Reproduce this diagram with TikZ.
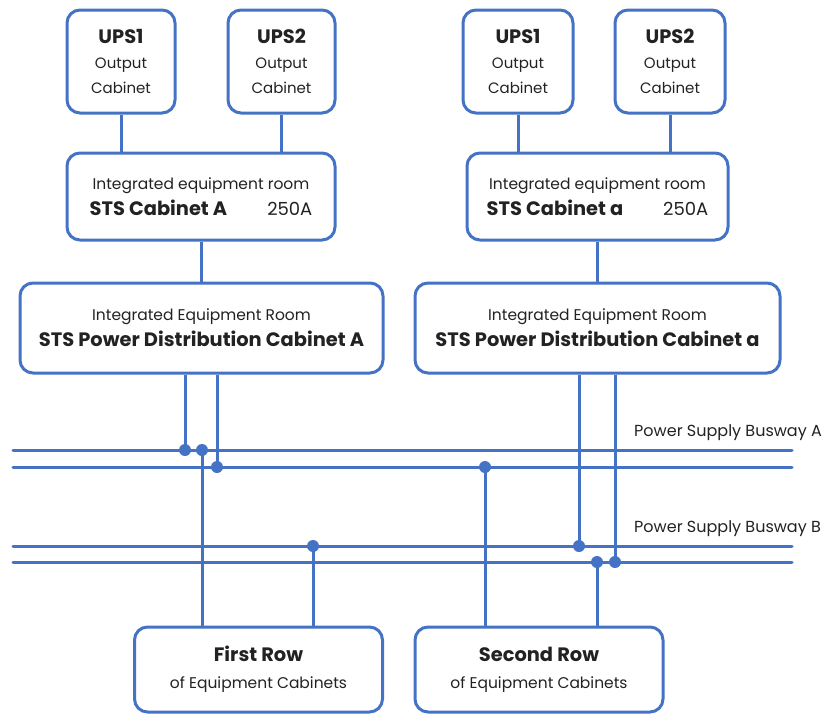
\documentclass[tikz,border=0pt]{standalone}
\usepackage{fontspec}
\setmainfont{Poppins}
\definecolor{lineblue}{HTML}{4472C4}
\definecolor{txt}{HTML}{222222}
\newcommand{\bigb}[1]{{\fontsize{19.4}{25}\selectfont\bfseries #1}}
\begin{document}
\begin{tikzpicture}[x=1pt,y=-1pt,
  box/.style={draw=lineblue,line width=3pt,rounded corners=13pt,fill=white,
    text=txt,align=center,inner sep=0pt},
  ups/.style={box,minimum height=103pt,font=\fontsize{15}{25}\selectfont},
  sts/.style={box,minimum height=87pt,font=\fontsize{15.5}{26}\selectfont},
  pd/.style={box,minimum height=90pt,font=\fontsize{15.5}{26}\selectfont},
  rowbox/.style={box,minimum width=248pt,minimum height=85pt,font=\fontsize{15.5}{27}\selectfont},
  wire/.style={draw=lineblue,line width=3pt},
  bus/.style={draw=lineblue,line width=3pt,line cap=round},
  dot/.style={circle,fill=lineblue,inner sep=0pt,minimum size=12pt},
  lbl/.style={text=txt,font=\fontsize{16}{18}\selectfont,anchor=west,inner sep=0pt}]
\useasboundingbox (0,0) rectangle (825,715);
% top boxes
\node[ups,minimum width=108pt] (u1L) at (121,61.5) {\bigb{UPS1}\\Output\\Cabinet};
\node[ups,minimum width=107pt] (u2L) at (281.5,61.5) {\bigb{UPS2}\\Output\\Cabinet};
\node[ups,minimum width=110pt] (u1R) at (518,61.5) {\bigb{UPS1}\\Output\\Cabinet};
\node[ups,minimum width=110pt] (u2R) at (670,61.5) {\bigb{UPS2}\\Output\\Cabinet};
% STS cabinets
\node[sts,minimum width=268pt] (stsA) at (201,196.5)
  {Integrated equipment room\\\bigb{STS Cabinet A}\hspace{40pt}{\fontsize{18}{26}\selectfont 250A}};
\node[sts,minimum width=261pt] (stsa) at (597.5,196.5)
  {Integrated equipment room\\\bigb{STS Cabinet a}\hspace{40pt}{\fontsize{18}{26}\selectfont 250A}};
% power distribution cabinets
\node[pd,minimum width=363pt] (pdA) at (201.5,328)
  {Integrated Equipment Room\\\bigb{STS Power Distribution Cabinet A}};
\node[pd,minimum width=365pt] (pda) at (597.5,328)
  {Integrated Equipment Room\\\bigb{STS Power Distribution Cabinet a}};
% rows
\node[rowbox] (row1) at (258.5,669.5) {\bigb{First Row}\\of Equipment Cabinets};
\node[rowbox] (row2) at (539,669.5) {\bigb{Second Row}\\of Equipment Cabinets};
% top connectors
\draw[wire] (u1L.south) -- (u1L.south |- stsA.north);
\draw[wire] (u2L.south) -- (u2L.south |- stsA.north);
\draw[wire] (u1R.south) -- (u1R.south |- stsa.north);
\draw[wire] (u2R.south) -- (u2R.south |- stsa.north);
\draw[wire] (stsA.south) -- (stsA.south |- pdA.north);
\draw[wire] (stsa.south) -- (stsa.south |- pda.north);
% busways
\coordinate (a1w) at (13,450); \coordinate (a1e) at (792,450);
\coordinate (a2w) at (13,467); \coordinate (a2e) at (792,467);
\coordinate (b1w) at (13,546); \coordinate (b1e) at (792,546);
\coordinate (b2w) at (13,562); \coordinate (b2e) at (792,562);
\draw[bus] (a1w) -- (a1e);
\draw[bus] (a2w) -- (a2e);
\draw[bus] (b1w) -- (b1e);
\draw[bus] (b2w) -- (b2e);
\node[lbl] (labA) at (634,433) {Power Supply Busway A};
\node[lbl] (labB) at (634,529) {Power Supply Busway B};
% junctions
\node[dot] (j1) at (185,450) {};
\node[dot] (j2) at (217,467) {};
\node[dot] (j3) at (202,450) {};
\node[dot] (j4) at (313,546) {};
\node[dot] (j5) at (579,546) {};
\node[dot] (j6) at (615,562) {};
\node[dot] (j7) at (597,562) {};
\node[dot] (j8) at (485,467) {};
\draw[wire] (j1 |- pdA.south) -- (j1.center);
\draw[wire] (j2 |- pdA.south) -- (j2.center);
\draw[wire] (j5 |- pda.south) -- (j5.center);
\draw[wire] (j6 |- pda.south) -- (j6.center);
\draw[wire] (j3.center) -- (j3 |- row1.north);
\draw[wire] (j4.center) -- (j4 |- row1.north);
\draw[wire] (j8.center) -- (j8 |- row2.north);
\draw[wire] (j7.center) -- (j7 |- row2.north);
\end{tikzpicture}
\end{document}
